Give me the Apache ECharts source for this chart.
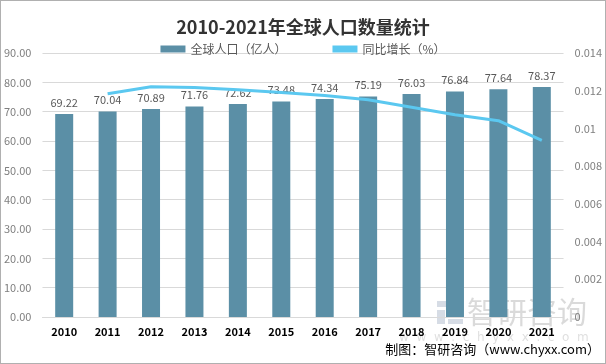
<!DOCTYPE html>
<html><head><meta charset="utf-8">
<script src="https://cdn.jsdelivr.net/npm/echarts@6/dist/echarts.min.js"></script>
<style>html,body{margin:0;padding:0;background:#fff}#c{width:604px;height:362px;border:1px solid #b0b0b0}</style>
</head><body><div id="c"></div>
<script>
const years = ['2010','2011','2012','2013','2014','2015','2016','2017','2018','2019','2020','2021'];
const population = [69.22,70.04,70.89,71.76,72.62,73.48,74.34,75.19,76.03,76.84,77.64,78.37];
const growth = [null,0.01184,0.01221,0.01217,0.01205,0.0119,0.01174,0.01152,0.01112,0.01072,0.01041,0.00937];
const leftTicks = ['0.00','10.00','20.00','30.00','40.00','50.00','60.00','70.00','80.00','90.00'];
const rightTicks = ['0','0.002','0.004','0.006','0.008','0.01','0.012','0.014'];
const chart = echarts.init(document.getElementById('c'));
const ff = '"Microsoft YaHei","Noto Sans CJK SC",sans-serif';
chart.setOption({
  animation:false,
  textStyle:{fontFamily:ff},
  title:{text:'2010-2021年全球人口数量统计',left:'center',top:12,
    textStyle:{fontSize:18,fontWeight:'bold',color:'#333',fontFamily:'"Noto Sans CJK SC",serif'}},
  legend:{top:37,left:'center',itemGap:46,itemWidth:25,itemHeight:7,
    textStyle:{fontSize:12,color:'#595959'},
    data:[{name:'全球人口（亿人）',icon:'rect'},{name:'同比增长（%）',icon:'rect',itemStyle:{color:'#5bc8f0'}}]},
  grid:{left:41,right:41,top:52,bottom:46},
  xAxis:{type:'category',data:years,
    axisLine:{lineStyle:{color:'#d9d9d9'}},axisTick:{show:false},
    axisLabel:{color:'#000',fontWeight:'bold',fontSize:11,margin:9}},
  yAxis:[
    {type:'value',min:0,max:90,interval:10,position:'left',
     axisLabel:{fontSize:11,color:'#7f7f7f',margin:11,formatter:(v)=>leftTicks[Math.round(v/10)]},
     splitLine:{lineStyle:{color:'#d9d9d9'}},axisLine:{show:false},axisTick:{show:false}},
    {type:'value',min:0,max:0.014,interval:0.002,position:'right',
     axisLabel:{fontSize:11,color:'#7f7f7f',margin:11,formatter:(v)=>rightTicks[Math.round(v/0.002)]},
     splitLine:{show:false},axisLine:{show:false},axisTick:{show:false}}
  ],
  series:[
    {name:'全球人口（亿人）',type:'bar',data:population,barWidth:18,
     itemStyle:{color:'#5b8fa6'},
     label:{show:true,position:'top',color:'#595959',fontSize:11,distance:6,formatter:(p)=>p.value.toFixed(2)}},
    {name:'同比增长（%）',type:'line',yAxisIndex:1,data:growth,symbol:'none',smooth:false,
     lineStyle:{color:'#5bc8f0',width:3},itemStyle:{color:'#5bc8f0'}}
  ],
  graphic:[
    {type:'rect',left:436,top:300,shape:{width:26,height:6},style:{fill:'rgba(120,140,170,0.3)'}},
    {type:'rect',left:436,top:309,shape:{width:8,height:14},style:{fill:'rgba(120,140,170,0.3)'}},
    {type:'rect',left:447,top:310,shape:{width:15,height:5},style:{fill:'rgba(90,160,220,0.3)'}},
    {type:'rect',left:447,top:318,shape:{width:15,height:5},style:{fill:'rgba(120,140,170,0.3)'}},
    {type:'text',left:466,top:296,style:{text:'智研咨询',font:'30px "Noto Sans CJK SC"',fill:'rgba(150,150,150,0.35)'}},
    {type:'text',left:398,top:331,style:{text:'w  w  w  .  c  h  y  x  x  .  c  o  m',font:'12px "DejaVu Sans"',fill:'rgba(150,150,150,0.3)'}},
    {type:'text',right:5,top:342,style:{text:'制图：智研咨询（www.chyxx.com）',font:'13px "Noto Sans CJK SC"',fill:'#000'}}
  ]
});
</script></body></html>
